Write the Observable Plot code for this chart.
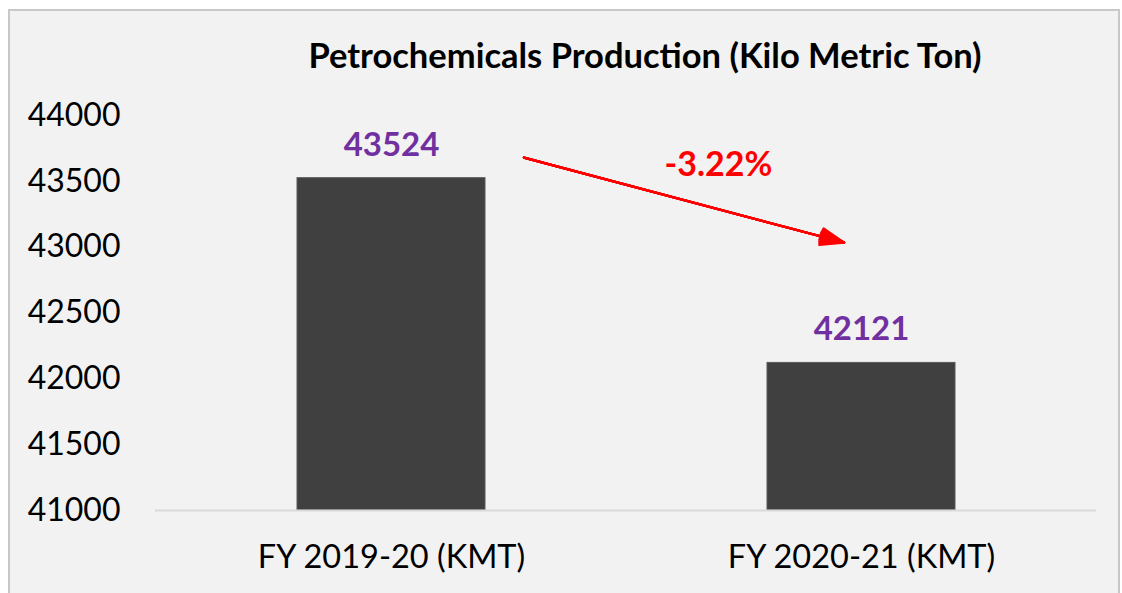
<!DOCTYPE html>
<html>
<head>
<meta charset="utf-8">
<script src="https://cdn.jsdelivr.net/npm/d3@7"></script>
<script src="https://cdn.jsdelivr.net/npm/@observablehq/plot@0.6"></script>
<style>
  html, body { margin: 0; padding: 0; background: #ffffff; width: 1122px; height: 593px; overflow: hidden; }
  #frame { position: absolute; left: 8px; top: 9px; width: 1112px; height: 600px; box-sizing: border-box;
           border: 2px solid #c8c8c8; background: #f2f2f2; }
  #title { position: absolute; left: 145px; width: 1000px; top: 34px; text-align: center;
           font-family: Lato, sans-serif; font-weight: 700; font-size: 34.5px; line-height: 42px; color: #000; }
  #plot { position: absolute; left: 0; top: 90px; }
  #plot svg { background: transparent; }
</style>
</head>
<body>
<div id="frame"></div>
<div id="title">Petrochemicals Production (Kilo Metric Ton)</div>
<div id="plot"></div>
<script>
const categories = ["FY 2019-20 (KMT)", "FY 2020-21 (KMT)"];
const production = [43524, 42121];
const yTicks = [41000, 41500, 42000, 42500, 43000, 43500, 44000];
const yDomain = [41000, 44000];
// arrow annotation endpoints (data units)
const arrowY = [43947, 43000];
const pctY = 43620;

const data = categories.map((c, i) => ({category: c, value: production[i]}));
const change = (production[1] - production[0]) / production[0] * 100;
const pctLabel = change.toFixed(2) + "%";

const headAngles = [0, 8, 16, 24, 32, 40];
const arrowMarks = headAngles.map(a => Plot.arrow([0], {
  x1: () => categories[0], y1: () => arrowY[0], x2: () => categories[1], y2: () => arrowY[1],
  stroke: "#ff0000", strokeWidth: 2.2, insetStart: 137, insetEnd: 18, headLength: 17, headAngle: a
}));

const plot = Plot.plot({
  width: 1122,
  height: 503,
  marginLeft: 155,
  marginRight: 26,
  marginTop: 25,
  marginBottom: 83,
  style: {background: "transparent", fontFamily: "Lato, sans-serif", color: "#000", overflow: "visible"},
  x: {domain: categories, paddingInner: 0.6, paddingOuter: 0.3, label: null},
  y: {domain: yDomain, label: null},
  marks: [
    Plot.barY(data, {x: "category", y1: yDomain[0], y2: "value", fill: "#404040", stroke: "#595959", strokeWidth: 1}),
    Plot.ruleY([yDomain[0]], {stroke: "#d9d9d9", strokeWidth: 2}),
    Plot.axisY({ticks: yTicks, tickSize: 0, tickPadding: 35, line: true, stroke: "#d0d0d0", fill: "#000", fontSize: 32, tickFormat: d => String(d)}),
    Plot.axisX({tickSize: 0, tickPadding: 34, fill: "#000", fontSize: 32.5}),
    Plot.text(data, {x: "category", y: "value", text: d => String(d.value), dy: -33, fill: "#7030a0", fontWeight: "bold", fontSize: 33}),
    ...arrowMarks,
    Plot.text([pctLabel], {x: () => categories[0], y: () => pctY, text: d => d, dx: 327, fill: "#ff0000", fontWeight: "bold", fontSize: 34})
  ]
});
document.getElementById("plot").appendChild(plot);
</script>
</body>
</html>
